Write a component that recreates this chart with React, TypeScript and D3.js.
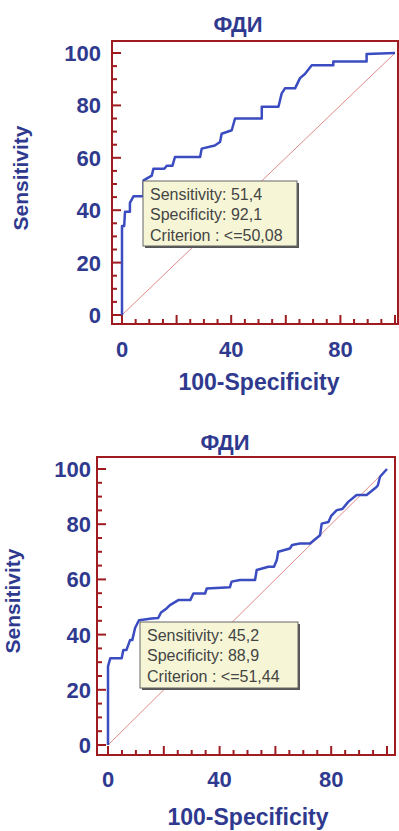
import { useEffect, useRef } from 'react';
import * as d3 from 'd3';

// ROC curve 1 (100-Specificity, Sensitivity)
const fpr1 = [0, 0, 0.8, 1.1, 2.9, 2.9, 4.2, 7.9, 7.9, 10.9, 11.5, 15.5, 16.4, 18.5, 19.4, 28.6, 29.2, 34, 35.9, 36.5, 40.2, 41.4, 51.2, 51.2, 57.3, 58.5, 59.7, 63.4, 65.2, 67, 69.5, 77.4, 77.4, 89.6, 89.6, 100];
const tpr1 = [0, 34, 34, 39.4, 39.4, 42.8, 45.3, 45.3, 51.4, 53.2, 55.8, 55.8, 57, 57, 60.3, 60.3, 63.5, 64.7, 66, 69.2, 70.5, 75, 75, 79.5, 79.5, 84.6, 86.5, 86.5, 90.4, 92, 95.3, 95.3, 96.8, 96.8, 99.6, 100];

// ROC curve 2
const fpr2 = [0, 0, 0.8, 4.9, 5.5, 6.6, 7.9, 8.7, 9.7, 11.1, 15.7, 18, 19, 21, 22.2, 25.2, 29.5, 30.6, 34.8, 35.4, 43.7, 44.3, 47.3, 52.7, 53.3, 57.5, 59.5, 60.5, 61, 65.2, 66, 68.8, 72.4, 76, 76.6, 79, 80, 82, 84, 86.1, 89.1, 92.7, 95.7, 96.7, 97.5, 100];
const tpr2 = [0, 28.5, 31.4, 31.4, 34.4, 34.4, 38, 38, 42.4, 45.2, 45.8, 46, 48, 49.5, 50.7, 52.5, 52.5, 54.9, 54.9, 56.7, 57.2, 59.2, 59.8, 59.8, 63.4, 64.6, 64.6, 67, 70, 71.2, 72.5, 73, 73, 76, 80.2, 80.8, 83, 85.1, 85.5, 88.1, 90.6, 90.6, 93, 94, 97.2, 100];

const legend1 = ['Sensitivity: 51,4', 'Specificity: 92,1', 'Criterion : <=50,08'];
const legend2 = ['Sensitivity: 45,2', 'Specificity: 88,9', 'Criterion : <=51,44'];

const yTicks = [0, 20, 40, 60, 80, 100];
const xTicks = [0, 40, 80];

const BLUE_TEXT = '#2f3a8f';
const FRAME = '#9e1b20';
const CURVE = '#3a4cc0';
const FONT = '"Liberation Sans", Arial, sans-serif';

interface Panel {
    fpr: number[];
    tpr: number[];
    legend: string[];
    frame: { x0: number; x1: number; y0: number; y1: number };
    xr: [number, number];
    yr: [number, number];
    title: [number, number];
    xLabel: [number, number];
    yLabel: [number, number];
    box: { x: number; y: number; w: number; h: number };
    yLabelRight: number;
    xTickY: number;
}

const panels: Panel[] = [
    {
        fpr: fpr1, tpr: tpr1, legend: legend1,
        frame: { x0: 112, x1: 398, y0: 41, y1: 324 },
        xr: [122, 395], yr: [315, 53],
        title: [238, 32], xLabel: [259, 390], yLabel: [28, 178],
        box: { x: 143, y: 181, w: 154, h: 65 },
        yLabelRight: 101, xTickY: 357
    },
    {
        fpr: fpr2, tpr: tpr2, legend: legend2,
        frame: { x0: 97, x1: 395, y0: 457, y1: 755 },
        xr: [108, 387], yr: [745, 469],
        title: [225, 450], xLabel: [248, 825], yLabel: [20, 601],
        box: { x: 140, y: 622, w: 158, h: 66 },
        yLabelRight: 91, xTickY: 787
    }
];

export default function App() {
    const svgRef = useRef<SVGSVGElement>(null);

    useEffect(() => {
        if (!svgRef.current) return;
        const svg = d3.select(svgRef.current);
        svg.selectAll('*').remove();

        panels.forEach(p => {
            const x = d3.scaleLinear().domain([0, 100]).range(p.xr);
            const y = d3.scaleLinear().domain([0, 100]).range(p.yr);
            const g = svg.append('g');
            const f = p.frame;

            // frame
            g.append('rect')
                .attr('x', f.x0).attr('y', f.y0)
                .attr('width', f.x1 - f.x0).attr('height', f.y1 - f.y0)
                .attr('fill', 'white').attr('stroke', FRAME).attr('stroke-width', 2);

            // ticks inside the frame, major every 20, minor every 5
            const minor = d3.range(0, 101, 5);
            g.selectAll('.ytick')
                .data(minor)
                .enter().append('line')
                .attr('x1', f.x0).attr('x2', d => f.x0 + (d % 20 === 0 ? 9 : 5))
                .attr('y1', d => y(d)).attr('y2', d => y(d))
                .attr('stroke', FRAME).attr('stroke-width', 2);
            g.selectAll('.xtick')
                .data(minor)
                .enter().append('line')
                .attr('y1', f.y1).attr('y2', d => f.y1 - (d % 20 === 0 ? 9 : 5))
                .attr('x1', d => x(d)).attr('x2', d => x(d))
                .attr('stroke', FRAME).attr('stroke-width', 2);

            // tick labels
            g.selectAll('.ylab')
                .data(yTicks)
                .enter().append('text')
                .attr('x', p.yLabelRight).attr('y', d => y(d) + 8)
                .attr('text-anchor', 'end')
                .attr('font-family', FONT).attr('font-size', 22).attr('font-weight', 'bold')
                .attr('fill', BLUE_TEXT)
                .text(d => d);
            g.selectAll('.xlab')
                .data(xTicks)
                .enter().append('text')
                .attr('x', d => x(d)).attr('y', p.xTickY)
                .attr('text-anchor', 'middle')
                .attr('font-family', FONT).attr('font-size', 22).attr('font-weight', 'bold')
                .attr('fill', BLUE_TEXT)
                .text(d => d);

            // diagonal reference
            g.append('line')
                .attr('x1', x(0)).attr('y1', y(0)).attr('x2', x(100)).attr('y2', y(100))
                .attr('stroke', '#e08a8a').attr('stroke-width', 1);

            // ROC curve
            const pts = p.fpr.map((v, i) => [v, p.tpr[i]] as [number, number]);
            const line = d3.line<[number, number]>().x(d => x(d[0])).y(d => y(d[1]));
            g.append('path')
                .attr('d', line(pts))
                .attr('fill', 'none').attr('stroke', CURVE).attr('stroke-width', 2.5)
                .attr('stroke-linejoin', 'round');

            // legend box
            const b = p.box;
            g.append('rect')
                .attr('x', b.x + 2).attr('y', b.y + 2).attr('width', b.w).attr('height', b.h)
                .attr('fill', '#555');
            g.append('rect')
                .attr('x', b.x).attr('y', b.y).attr('width', b.w).attr('height', b.h)
                .attr('fill', '#f6f6d6').attr('stroke', '#666').attr('stroke-width', 1);
            g.selectAll('.leg')
                .data(p.legend)
                .enter().append('text')
                .attr('x', b.x + 7).attr('y', (_, i) => b.y + 18.5 + i * 20.5)
                .attr('font-family', FONT).attr('font-size', 16)
                .attr('fill', '#444')
                .text(d => d);

            // titles
            g.append('text')
                .attr('x', p.title[0]).attr('y', p.title[1])
                .attr('text-anchor', 'middle')
                .attr('font-family', FONT).attr('font-size', 22).attr('font-weight', 'bold')
                .attr('fill', BLUE_TEXT).text('ФДИ');
            g.append('text')
                .attr('x', p.xLabel[0]).attr('y', p.xLabel[1])
                .attr('text-anchor', 'middle')
                .attr('font-family', FONT).attr('font-size', 23).attr('font-weight', 'bold')
                .attr('fill', BLUE_TEXT).text('100-Specificity');
            g.append('text')
                .attr('transform', `translate(${p.yLabel[0]},${p.yLabel[1]}) rotate(-90)`)
                .attr('text-anchor', 'middle')
                .attr('font-family', FONT).attr('font-size', 21).attr('font-weight', 'bold')
                .attr('fill', BLUE_TEXT).text('Sensitivity');
        });
    }, []);

    return (
        <svg
            ref={svgRef}
            width={399}
            height={831}
            style={{ position: 'absolute', left: 0, top: 0, background: 'white' }}
        />
    );
}
